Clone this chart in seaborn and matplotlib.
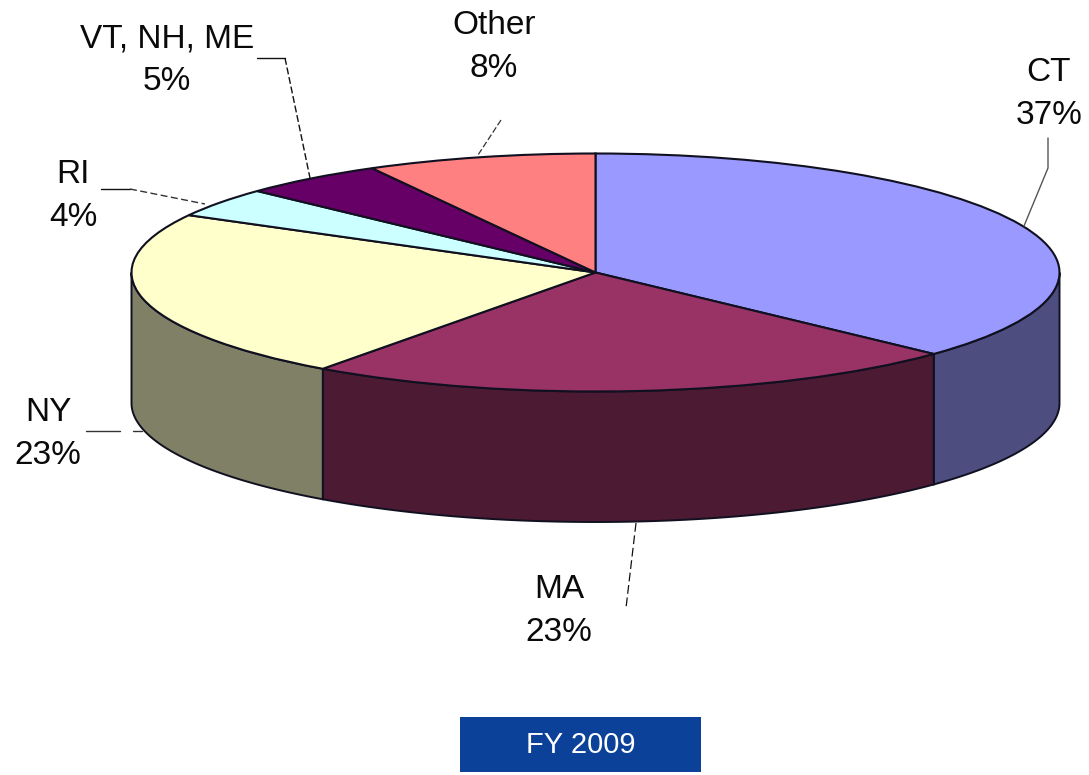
import numpy as np
import matplotlib
matplotlib.use("Agg")
import matplotlib.pyplot as plt
from matplotlib.patches import Rectangle
import seaborn as sns

# Data
categories = ["CT", "MA", "NY", "RI", "VT, NH, ME", "Other"]
shares = [37, 23, 23, 4, 5, 8]
top_colors = ["#9999FF", "#993366", "#FFFFCC", "#CCFFFF", "#660066", "#FF8080"]
side_colors = ["#4D4D80", "#4C1A33", "#808066", "#66807F", "#330033", "#804040"]
footer_label = "FY 2009"

# Layout (reference pixels)
W, H = 1089, 775
CX, CY, RX, RY, DEPTH = 595.5, 272.5, 464.0, 119.0, 130.5

sns.set_theme(style="white")
plt.rcParams["font.family"] = ["Liberation Sans", "DejaVu Sans"]

fig = plt.figure(figsize=(W / 100, H / 100), dpi=100)
ax = fig.add_axes([0, 0, 1, 1])


def px(x, y):
    return (x - CX) / RX, (CY - y) / RY


# Top face: an ordinary pie on non-equal axes gives the ellipse
ax.pie(
    shares,
    colors=sns.color_palette(top_colors),
    startangle=90,
    counterclock=False,
    radius=1,
    wedgeprops=dict(edgecolor="#101020", linewidth=1.5, zorder=3),
)
ax.set_aspect("auto")
ax.set_xlim(px(0, 0)[0], px(W, 0)[0])
ax.set_ylim(px(0, H)[1], px(0, 0)[1])
ax.axis("off")

# Side wall: visible (front) part of each slice
edges = np.cumsum([0] + shares) / sum(shares) * 360
depth = DEPTH / RY
for start, end, colour in zip(edges[:-1], edges[1:], side_colors):
    a, b = max(start, 90), min(end, 270)
    if a >= b:
        continue
    th = np.radians(np.linspace(a, b, 120))
    xs, ys = np.sin(th), np.cos(th)
    ax.fill(
        np.r_[xs, xs[::-1]],
        np.r_[ys, ys[::-1] - depth],
        facecolor=colour,
        edgecolor="#101020",
        linewidth=1.4,
        zorder=1,
    )

# Labels
label_pos = {
    "CT": (1049, 94),
    "MA": (559, 611),
    "NY": (48, 434),
    "RI": (73, 196),
    "VT, NH, ME": (167, 60),
    "Other": (494, 47),
}
for name, share in zip(categories, shares):
    x, y = px(*label_pos[name])
    ax.text(x, y, f"{name}\n{share}%", ha="center", va="center", fontsize=24,
            color="#0a0a0a", linespacing=1.46, zorder=5)

# Leader lines
leaders = [
    ([(1048, 138), (1048, 168), (1024, 226)], "#555555", "-", 1.0),
    ([(501, 120), (478, 155)], "#333333", (0, (5, 2)), 0.9),
    ([(257, 58), (285, 58)], "#111111", "-", 1.0),
    ([(285, 58), (310, 178)], "#111111", (0, (5, 2)), 1.0),
    ([(101, 189), (130, 189)], "#111111", "-", 1.0),
    ([(130, 189), (205, 204)], "#333333", (0, (5, 2.5)), 1.0),
    ([(86, 431), (120, 431)], "#333333", "-", 1.0),
    ([(133, 431), (142, 431)], "#333333", "-", 1.0),
    ([(636, 523), (626, 608)], "#111111", (0, (7, 3)), 0.9),
]
for pts, c, ls, lw in leaders:
    p = np.array([px(*q) for q in pts])
    ax.plot(p[:, 0], p[:, 1], color=c, linestyle=ls, linewidth=lw, zorder=4)

# Footer box
x0, y1 = px(460, 772)
x1, y0 = px(701, 717)
ax.add_patch(Rectangle((x0, y1), x1 - x0, y0 - y1, facecolor="#0C419A",
                       edgecolor="none", zorder=4))
tx, ty = px(580.5, 745)
ax.text(tx, ty, footer_label, ha="center", va="center", fontsize=21,
        color="white", zorder=5)

fig.savefig("out.png", dpi=100, facecolor="white")
